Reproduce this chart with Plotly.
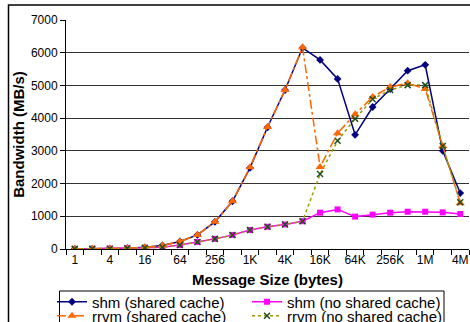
import plotly.graph_objects as go

sizes = ["1", "2", "4", "8", "16", "32", "64", "128", "256", "512", "1K", "2K", "4K",
         "8K", "16K", "32K", "64K", "128K", "256K", "512K", "1M", "2M", "4M"]
tick_labels = ["1", "4", "16", "64", "256", "1K", "4K", "16K", "64K", "256K", "1M", "4M"]

shm_shared = [3, 6, 12, 25, 50, 110, 230, 430, 830, 1460, 2480, 3720, 4860, 6150,
              5780, 5200, 3490, 4340, 4890, 5450, 5630, 3000, 1710]
shm_noshared = [3, 6, 10, 20, 35, 55, 120, 215, 310, 430, 580, 680, 750, 850,
                1110, 1210, 990, 1050, 1110, 1140, 1140, 1120, 1070]
rrvm_shared = [3, 6, 12, 25, 50, 110, 230, 430, 830, 1460, 2500, 3730, 4860, 6170,
               2510, 3540, 4120, 4650, 4950, 5070, 4890, 3150, 1400]
rrvm_noshared = [3, 6, 10, 20, 35, 55, 120, 215, 310, 430, 580, 680, 750, 850,
                 2290, 3310, 3980, 4580, 4860, 5010, 5010, 3150, 1430]

xi = list(range(len(sizes)))
tick_idx = [sizes.index(t) for t in tick_labels]

font = "Liberation Sans, Arial, sans-serif"
PW, PH = 403, 229  # plot area size in px (for paper-coordinate placement)


def px_x(p):
    return (p - 66) / PW


def px_y(p):
    return (249 - p) / PH


fig = go.Figure()
fig.add_trace(go.Scatter(x=xi, y=shm_shared, name="shm (shared cache)", mode="lines+markers",
                         legend="legend",
                         line=dict(color="#000080", width=1.5),
                         marker=dict(symbol="diamond", size=6, color="#000080")))
fig.add_trace(go.Scatter(x=xi, y=shm_noshared, name="shm (no shared cache)", mode="lines+markers",
                         legend="legend",
                         line=dict(color="#FF00FF", width=1.5),
                         marker=dict(symbol="square", size=6, color="#FF00FF")))
fig.add_trace(go.Scatter(x=xi, y=rrvm_shared, name="rrvm (shared cache)", mode="lines+markers",
                         legend="legend2",
                         line=dict(color="#FF6600", width=1.5, dash="dashdot"),
                         marker=dict(symbol="triangle-up", size=8, color="#FF6600")))
fig.add_trace(go.Scatter(x=xi, y=rrvm_noshared, name="rrvm (no shared cache)", mode="lines+markers",
                         legend="legend2",
                         line=dict(color="#999900", width=1.5, dash="dot"),
                         marker=dict(symbol="x-thin", size=6, color="#1f4f1f",
                                     line=dict(color="#1f4f1f", width=1.5))))

leg_common = dict(orientation="h", xanchor="left", yanchor="middle",
                  borderwidth=0, bgcolor="rgba(0,0,0,0)",
                  font=dict(family=font, size=15, color="black"),
                  entrywidth=150, entrywidthmode="pixels", itemwidth=30)

fig.update_layout(
    width=470, height=322,
    margin=dict(l=66, r=1, t=20, b=73, autoexpand=False),
    paper_bgcolor="white", plot_bgcolor="white",
    font=dict(family=font, size=12, color="black"),
    showlegend=True,
    legend=dict(x=px_x(52), y=px_y(302), **leg_common),
    legend2=dict(x=px_x(52), y=px_y(316), **leg_common),
    xaxis=dict(range=[-0.5, 22.5], tickmode="array", tickvals=tick_idx, ticktext=tick_labels,
               ticks="", showgrid=False, zeroline=False,
               showline=True, linecolor="black", linewidth=1,
               tickfont=dict(size=12),
               minor=dict(tickmode="linear", tick0=-0.5, dtick=1, ticks="outside",
                          ticklen=5, tickcolor="black", showgrid=False),
               title=dict(text="<b>Message Size (bytes)</b>", font=dict(size=15), standoff=8)),
    yaxis=dict(range=[0, 7000], tickmode="linear", tick0=0, dtick=1000,
               ticks="outside", ticklen=5, tickcolor="black",
               showgrid=True, gridcolor="#333333", gridwidth=1, zeroline=False,
               showline=True, linecolor="black", linewidth=1,
               tickfont=dict(size=12),
               title=dict(text="<b>Bandwidth (MB/s)</b>", font=dict(size=15), standoff=2)),
    shapes=[
        dict(type="rect", xref="paper", yref="paper",
             x0=px_x(8.5), x1=1.2, y0=-0.5, y1=px_y(5),
             line=dict(color="black", width=1.5), fillcolor="rgba(0,0,0,0)", layer="below"),
        dict(type="rect", xref="paper", yref="paper",
             x0=px_x(59.5), x1=px_x(444), y0=px_y(335), y1=px_y(291),
             line=dict(color="black", width=1), fillcolor="rgba(0,0,0,0)", layer="below"),
    ],
)

fig.write_html("out.html", config={"displayModeBar": False},
               post_script="document.body.style.margin='0';")
